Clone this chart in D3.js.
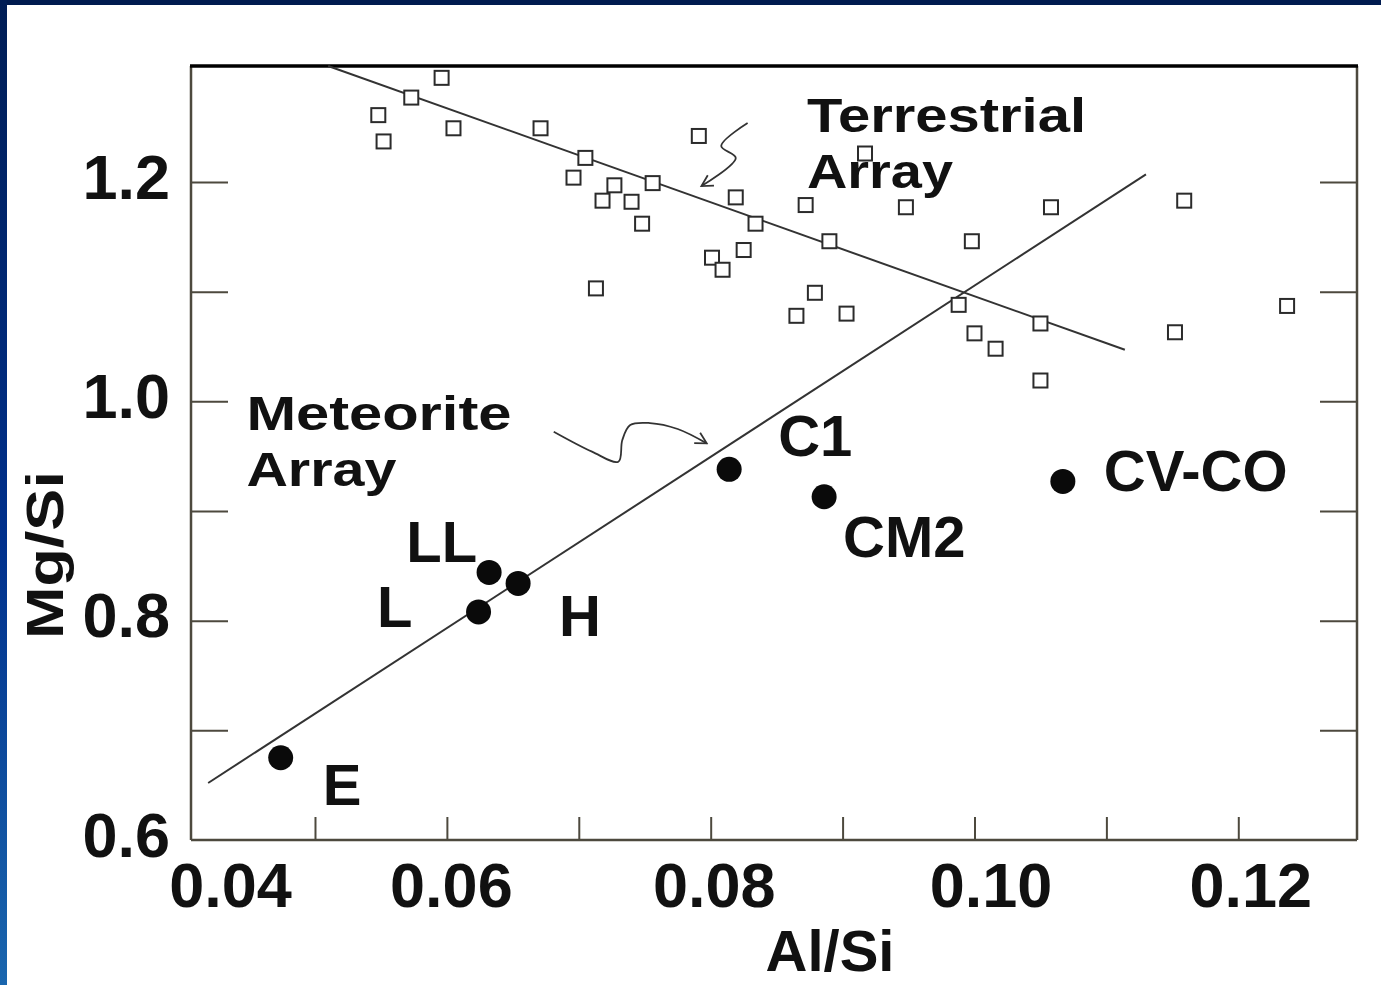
<!DOCTYPE html>
<html>
<head>
<meta charset="utf-8">
<script src="https://cdn.jsdelivr.net/npm/d3@7"></script>
<style>
  body { margin: 0; background: #fff; }
  svg { display: block; }
  text { font-family: "Liberation Sans", Arial, sans-serif; font-weight: bold; fill: #111; }
</style>
</head>
<body>
<svg id="chart"></svg>
<script>
// terrestrial rocks (open squares)
const terrestrialAl = [0.0596, 0.0573, 0.0548, 0.0552, 0.0605, 0.0671, 0.0705, 0.0696, 0.0727, 0.0718,
  0.0740, 0.0748, 0.0756, 0.0791, 0.0819, 0.0834, 0.0825, 0.0801, 0.0809, 0.0713,
  0.0872, 0.0890, 0.0917, 0.0948, 0.0879, 0.0865, 0.0903, 0.0998, 0.1058, 0.0988,
  0.1050, 0.1000, 0.1016, 0.1050, 0.1159, 0.1237, 0.1152];
const terrestrialMg = [1.295, 1.277, 1.261, 1.237, 1.249, 1.249, 1.222, 1.204, 1.197, 1.183,
  1.182, 1.162, 1.199, 1.242, 1.186, 1.162, 1.138, 1.131, 1.120, 1.103,
  1.179, 1.146, 1.226, 1.177, 1.099, 1.078, 1.080, 1.146, 1.177, 1.088,
  1.071, 1.062, 1.048, 1.019, 1.183, 1.087, 1.063];

// meteorite classes (filled circles)
const meteoriteNames = ["E", "L", "LL", "H", "C1", "CM2", "CV-CO"];
const meteoriteAl = [0.0474, 0.0624, 0.0632, 0.0654, 0.0814, 0.0886, 0.1067];
const meteoriteMg = [0.675, 0.808, 0.844, 0.834, 0.938, 0.913, 0.927];

// fitted arrays
const meteoriteLine = [[0.0419, 0.652], [0.1130, 1.207]];
const terrestrialLine = [[0.0510, 1.3058], [0.1114, 1.047]];

// squiggly pointer arrows
const terrestrialArrow = [[0.0828, 1.2538], [0.0808, 1.2328], [0.0819, 1.2219], [0.0793, 1.1963]];
const meteoriteArrow = [[0.0681, 0.9723], [0.0710, 0.9541], [0.0730, 0.9450], [0.0733, 0.9647],
  [0.0739, 0.9784], [0.0754, 0.9802], [0.0775, 0.9748], [0.0797, 0.9617]];

// axes
const xTicks = [0.05, 0.06, 0.07, 0.08, 0.09, 0.10, 0.11, 0.12];
const xTickLabels = [0.04, 0.06, 0.08, 0.10, 0.12];
const yTicks = [0.7, 0.8, 0.9, 1.0, 1.1, 1.2];
const yTickLabels = [0.6, 0.8, 1.0, 1.2];

const width = 1381, height = 985;
const frameColor = "#4d493e";

const svg = d3.select("#chart").attr("width", width).attr("height", height);

// slide background border
const defs = svg.append("defs");
const grad = defs.append("linearGradient")
    .attr("id", "edge-grad")
    .attr("x1", "0%").attr("x2", "0%")
    .attr("y1", "0%").attr("y2", "100%");
grad.append("stop").attr("offset", "0%").attr("stop-color", "#001d55");
grad.append("stop").attr("offset", "55%").attr("stop-color", "#00308c");
grad.append("stop").attr("offset", "100%").attr("stop-color", "#1a66ae");

svg.append("rect").attr("width", width).attr("height", height).attr("fill", "#fff");
svg.append("rect").attr("x", 0).attr("y", 0).attr("width", width).attr("height", 5).attr("fill", "#001b4f");
svg.append("rect").attr("x", 0).attr("y", 0).attr("width", 7).attr("height", height).attr("fill", "url(#edge-grad)");

// arrow head marker
defs.append("marker")
    .attr("id", "arrow")
    .attr("viewBox", "0 0 14 14")
    .attr("refX", 12).attr("refY", 7)
    .attr("markerWidth", 14).attr("markerHeight", 14)
    .attr("markerUnits", "userSpaceOnUse")
    .attr("orient", "auto")
  .append("path")
    .attr("d", "M1,1 L12,7 L1,13")
    .attr("fill", "none")
    .attr("stroke", "#333")
    .attr("stroke-width", 1.8);

const x = d3.scaleLinear().domain([0.0406, 0.129]).range([191, 1357]);
const y = d3.scaleLinear().domain([0.6, 1.3058]).range([840, 66]);

// inside ticks
const tickStyle = g => {
    g.select(".domain").remove();
    g.selectAll("line").attr("stroke", frameColor).attr("stroke-width", 2);
};
svg.append("g").attr("transform", `translate(0,${y(0.6)})`)
    .call(d3.axisBottom(x).tickValues(xTicks).tickSize(-23).tickFormat(""))
    .call(tickStyle);
svg.append("g").attr("transform", `translate(${x(0.0406)},0)`)
    .call(d3.axisLeft(y).tickValues(yTicks).tickSize(-37).tickFormat(""))
    .call(tickStyle);
svg.append("g").attr("transform", `translate(${x(0.129)},0)`)
    .call(d3.axisRight(y).tickValues(yTicks).tickSize(-37).tickFormat(""))
    .call(tickStyle);

// tick labels (original figure has them nudged a bit right of the ticks)
const xLabelShift = { "0.04": 47, "0.06": 4, "0.08": 3, "0.10": 16, "0.12": 12 };
const fmtX = d3.format(".2f");
const xLab = svg.append("g").attr("transform", `translate(0,${y(0.6)})`)
    .call(d3.axisBottom(x).tickValues(xTickLabels).tickSize(0).tickPadding(0).tickFormat(fmtX));
xLab.select(".domain").remove();
xLab.selectAll("text")
    .attr("y", 67).attr("dy", 0)
    .attr("x", d => xLabelShift[fmtX(d)])
    .style("font-size", "63px")
    .style("font-family", "'Liberation Sans', Arial, sans-serif")
    .style("font-weight", "bold")
    .attr("fill", "#111");

const yLab = svg.append("g").attr("transform", `translate(${x(0.0406)},0)`)
    .call(d3.axisLeft(y).tickValues(yTickLabels).tickSize(0).tickPadding(21).tickFormat(d3.format(".1f")));
yLab.select(".domain").remove();
yLab.selectAll("text")
    .attr("dy", 16)
    .style("font-size", "63px")
    .style("font-family", "'Liberation Sans', Arial, sans-serif")
    .style("font-weight", "bold")
    .attr("fill", "#111");

// frame
svg.append("line").attr("x1", x(0.0406)).attr("x2", x(0.0406)).attr("y1", y(1.3058)).attr("y2", y(0.6))
    .attr("stroke", frameColor).attr("stroke-width", 2.5);
svg.append("line").attr("x1", x(0.129)).attr("x2", x(0.129)).attr("y1", y(1.3058)).attr("y2", y(0.6))
    .attr("stroke", frameColor).attr("stroke-width", 2.5);
svg.append("line").attr("x1", x(0.0406)).attr("x2", x(0.129)).attr("y1", y(0.6)).attr("y2", y(0.6))
    .attr("stroke", frameColor).attr("stroke-width", 2.5);
svg.append("line").attr("x1", x(0.0406) - 1).attr("x2", x(0.129) + 1).attr("y1", y(1.3058)).attr("y2", y(1.3058))
    .attr("stroke", "#000").attr("stroke-width", 3.5);

// fitted lines
const line = d3.line().x(d => x(d[0])).y(d => y(d[1]));
[meteoriteLine, terrestrialLine].forEach(l => {
    svg.append("path").attr("d", line(l))
        .attr("fill", "none").attr("stroke", "#333").attr("stroke-width", 2);
});

// terrestrial squares
const terr = terrestrialAl.map((a, i) => ({ al: a, mg: terrestrialMg[i] }));
svg.append("g").selectAll("rect")
    .data(terr)
    .enter()
    .append("rect")
    .attr("x", d => x(d.al) - 7)
    .attr("y", d => y(d.mg) - 7)
    .attr("width", 14)
    .attr("height", 14)
    .attr("fill", "#fff")
    .attr("stroke", "#2b2b2b")
    .attr("stroke-width", 2);

// meteorite points
const met = meteoriteNames.map((n, i) => ({ name: n, al: meteoriteAl[i], mg: meteoriteMg[i] }));
svg.append("g").selectAll("circle")
    .data(met)
    .enter()
    .append("circle")
    .attr("cx", d => x(d.al))
    .attr("cy", d => y(d.mg))
    .attr("r", 12.5)
    .attr("fill", "#0a0a0a");

// label placement relative to each point: [dx, dy, anchor]
const labelPlace = {
    "E": [42, 47, "start"],
    "L": [-66, 15, "end"],
    "LL": [-12, -10, "end"],
    "H": [41, 53, "start"],
    "C1": [49, -13, "start"],
    "CM2": [19, 60, "start"],
    "CV-CO": [41, 10, "start"]
};
svg.append("g").selectAll("text")
    .data(met)
    .enter()
    .append("text")
    .attr("x", d => x(d.al) + labelPlace[d.name][0])
    .attr("y", d => y(d.mg) + labelPlace[d.name][1])
    .attr("text-anchor", d => labelPlace[d.name][2])
    .style("font-size", "58px")
    .text(d => d.name);

// squiggle arrows
const curve = d3.line().x(d => x(d[0])).y(d => y(d[1])).curve(d3.curveCatmullRom.alpha(0.5));
[terrestrialArrow, meteoriteArrow].forEach(a => {
    svg.append("path").attr("d", curve(a))
        .attr("fill", "none").attr("stroke", "#333").attr("stroke-width", 1.8)
        .attr("marker-end", "url(#arrow)");
});

// array annotations
function annotate(px, py, lines, lengths) {
    const t = svg.append("g");
    lines.forEach((s, i) => {
        t.append("text")
            .attr("x", x(px))
            .attr("y", y(py) + i * 56)
            .attr("textLength", lengths[i])
            .attr("lengthAdjust", "spacingAndGlyphs")
            .style("font-size", "48px")
            .text(s);
    });
}
annotate(0.0873, 1.2456, ["Terrestrial", "Array"], [279, 146]);
annotate(0.0448, 0.9738, ["Meteorite", "Array"], [265, 150]);

// axis titles
svg.append("text")
    .attr("x", 830)
    .attr("y", 971)
    .attr("text-anchor", "middle")
    .style("font-size", "58px")
    .text("Al/Si");

svg.append("text")
    .attr("transform", `translate(63,${y(0.8598)}) rotate(-90)`)
    .attr("text-anchor", "middle")
    .attr("textLength", 168)
    .attr("lengthAdjust", "spacingAndGlyphs")
    .style("font-size", "52px")
    .text("Mg/Si");
</script>
</body>
</html>
